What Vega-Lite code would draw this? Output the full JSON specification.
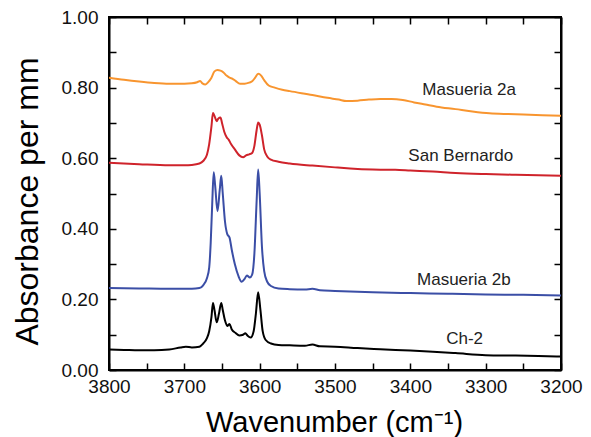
{
  "$schema": "https://vega.github.io/schema/vega-lite/v6.json",
  "width": 452,
  "height": 353,
  "autosize": "none",
  "padding": {"left": 109, "top": 17, "right": 30, "bottom": 67},
  "background": "white",
  "config": {
    "view": {"stroke": "black", "strokeWidth": 2},
    "axis": {"grid": false, "domainColor": "black", "domainWidth": 2, "tickColor": "black", "tickWidth": 1.5, "tickSize": -7, "labelFont": "Liberation Sans", "labelFontSize": 19, "labelColor": "#111", "titleColor": "black", "titleFontWeight": "normal"}
  },
  "datasets": {
    "spectra": [
      {"s":"Ch-2","x":3800,"y":0.058},{"s":"Ch-2","x":3780,"y":0.057},{"s":"Ch-2","x":3760,"y":0.056},{"s":"Ch-2","x":3740,"y":0.056},{"s":"Ch-2","x":3720,"y":0.058},{"s":"Ch-2","x":3705,"y":0.064},{"s":"Ch-2","x":3698,"y":0.066},{"s":"Ch-2","x":3690,"y":0.064},{"s":"Ch-2","x":3680,"y":0.066},{"s":"Ch-2","x":3675,"y":0.075},{"s":"Ch-2","x":3670,"y":0.09},{"s":"Ch-2","x":3667,"y":0.11},{"s":"Ch-2","x":3664,"y":0.15},{"s":"Ch-2","x":3662,"y":0.19},{"s":"Ch-2","x":3660,"y":0.17},{"s":"Ch-2","x":3657,"y":0.135},{"s":"Ch-2","x":3654,"y":0.16},{"s":"Ch-2","x":3651,"y":0.19},{"s":"Ch-2","x":3649,"y":0.17},{"s":"Ch-2","x":3646,"y":0.14},{"s":"Ch-2","x":3643,"y":0.125},{"s":"Ch-2","x":3640,"y":0.13},{"s":"Ch-2","x":3637,"y":0.115},{"s":"Ch-2","x":3632,"y":0.105},{"s":"Ch-2","x":3627,"y":0.098},{"s":"Ch-2","x":3622,"y":0.1},{"s":"Ch-2","x":3619,"y":0.104},{"s":"Ch-2","x":3616,"y":0.097},{"s":"Ch-2","x":3612,"y":0.092},{"s":"Ch-2","x":3608,"y":0.11},{"s":"Ch-2","x":3605,"y":0.16},{"s":"Ch-2","x":3602,"y":0.22},{"s":"Ch-2","x":3599,"y":0.17},{"s":"Ch-2","x":3596,"y":0.11},{"s":"Ch-2","x":3592,"y":0.085},{"s":"Ch-2","x":3585,"y":0.075},{"s":"Ch-2","x":3575,"y":0.071},{"s":"Ch-2","x":3560,"y":0.07},{"s":"Ch-2","x":3540,"y":0.069},{"s":"Ch-2","x":3530,"y":0.072},{"s":"Ch-2","x":3520,"y":0.067},{"s":"Ch-2","x":3500,"y":0.066},{"s":"Ch-2","x":3470,"y":0.062},{"s":"Ch-2","x":3440,"y":0.059},{"s":"Ch-2","x":3400,"y":0.055},{"s":"Ch-2","x":3370,"y":0.052},{"s":"Ch-2","x":3340,"y":0.048},{"s":"Ch-2","x":3300,"y":0.042},{"s":"Ch-2","x":3260,"y":0.041},{"s":"Ch-2","x":3230,"y":0.04},{"s":"Ch-2","x":3200,"y":0.038},

      {"s":"Masueria 2b","x":3800,"y":0.232},{"s":"Masueria 2b","x":3760,"y":0.231},{"s":"Masueria 2b","x":3720,"y":0.23},{"s":"Masueria 2b","x":3690,"y":0.23},{"s":"Masueria 2b","x":3680,"y":0.232},{"s":"Masueria 2b","x":3675,"y":0.24},{"s":"Masueria 2b","x":3670,"y":0.26},{"s":"Masueria 2b","x":3667,"y":0.29},{"s":"Masueria 2b","x":3665,"y":0.36},{"s":"Masueria 2b","x":3663,"y":0.47},{"s":"Masueria 2b","x":3661,"y":0.56},{"s":"Masueria 2b","x":3659,"y":0.52},{"s":"Masueria 2b","x":3656,"y":0.45},{"s":"Masueria 2b","x":3653,"y":0.51},{"s":"Masueria 2b","x":3651,"y":0.55},{"s":"Masueria 2b","x":3649,"y":0.5},{"s":"Masueria 2b","x":3646,"y":0.42},{"s":"Masueria 2b","x":3643,"y":0.385},{"s":"Masueria 2b","x":3640,"y":0.375},{"s":"Masueria 2b","x":3637,"y":0.34},{"s":"Masueria 2b","x":3633,"y":0.3},{"s":"Masueria 2b","x":3628,"y":0.265},{"s":"Masueria 2b","x":3624,"y":0.25},{"s":"Masueria 2b","x":3620,"y":0.258},{"s":"Masueria 2b","x":3617,"y":0.268},{"s":"Masueria 2b","x":3613,"y":0.262},{"s":"Masueria 2b","x":3610,"y":0.27},{"s":"Masueria 2b","x":3607,"y":0.33},{"s":"Masueria 2b","x":3604,"y":0.48},{"s":"Masueria 2b","x":3602,"y":0.568},{"s":"Masueria 2b","x":3600,"y":0.5},{"s":"Masueria 2b","x":3597,"y":0.35},{"s":"Masueria 2b","x":3594,"y":0.28},{"s":"Masueria 2b","x":3590,"y":0.25},{"s":"Masueria 2b","x":3585,"y":0.238},{"s":"Masueria 2b","x":3575,"y":0.231},{"s":"Masueria 2b","x":3560,"y":0.229},{"s":"Masueria 2b","x":3540,"y":0.228},{"s":"Masueria 2b","x":3530,"y":0.23},{"s":"Masueria 2b","x":3520,"y":0.226},{"s":"Masueria 2b","x":3500,"y":0.224},{"s":"Masueria 2b","x":3450,"y":0.22},{"s":"Masueria 2b","x":3400,"y":0.218},{"s":"Masueria 2b","x":3350,"y":0.216},{"s":"Masueria 2b","x":3300,"y":0.214},{"s":"Masueria 2b","x":3250,"y":0.213},{"s":"Masueria 2b","x":3200,"y":0.211},

      {"s":"San Bernardo","x":3800,"y":0.587},{"s":"San Bernardo","x":3760,"y":0.583},{"s":"San Bernardo","x":3720,"y":0.58},{"s":"San Bernardo","x":3700,"y":0.58},{"s":"San Bernardo","x":3690,"y":0.581},{"s":"San Bernardo","x":3680,"y":0.585},{"s":"San Bernardo","x":3675,"y":0.592},{"s":"San Bernardo","x":3670,"y":0.61},{"s":"San Bernardo","x":3667,"y":0.64},{"s":"San Bernardo","x":3664,"y":0.69},{"s":"San Bernardo","x":3662,"y":0.728},{"s":"San Bernardo","x":3660,"y":0.72},{"s":"San Bernardo","x":3657,"y":0.705},{"s":"San Bernardo","x":3655,"y":0.712},{"s":"San Bernardo","x":3652,"y":0.715},{"s":"San Bernardo","x":3650,"y":0.7},{"s":"San Bernardo","x":3647,"y":0.675},{"s":"San Bernardo","x":3644,"y":0.66},{"s":"San Bernardo","x":3641,"y":0.652},{"s":"San Bernardo","x":3638,"y":0.64},{"s":"San Bernardo","x":3633,"y":0.625},{"s":"San Bernardo","x":3627,"y":0.608},{"s":"San Bernardo","x":3622,"y":0.603},{"s":"San Bernardo","x":3618,"y":0.608},{"s":"San Bernardo","x":3614,"y":0.611},{"s":"San Bernardo","x":3610,"y":0.615},{"s":"San Bernardo","x":3607,"y":0.635},{"s":"San Bernardo","x":3604,"y":0.68},{"s":"San Bernardo","x":3602,"y":0.701},{"s":"San Bernardo","x":3600,"y":0.695},{"s":"San Bernardo","x":3597,"y":0.665},{"s":"San Bernardo","x":3594,"y":0.625},{"s":"San Bernardo","x":3590,"y":0.605},{"s":"San Bernardo","x":3585,"y":0.596},{"s":"San Bernardo","x":3575,"y":0.59},{"s":"San Bernardo","x":3560,"y":0.585},{"s":"San Bernardo","x":3530,"y":0.579},{"s":"San Bernardo","x":3500,"y":0.574},{"s":"San Bernardo","x":3480,"y":0.571},{"s":"San Bernardo","x":3450,"y":0.568},{"s":"San Bernardo","x":3420,"y":0.567},{"s":"San Bernardo","x":3400,"y":0.565},{"s":"San Bernardo","x":3370,"y":0.562},{"s":"San Bernardo","x":3340,"y":0.558},{"s":"San Bernardo","x":3300,"y":0.555},{"s":"San Bernardo","x":3260,"y":0.553},{"s":"San Bernardo","x":3200,"y":0.55},

      {"s":"Masueria 2a","x":3800,"y":0.828},{"s":"Masueria 2a","x":3780,"y":0.822},{"s":"Masueria 2a","x":3760,"y":0.817},{"s":"Masueria 2a","x":3740,"y":0.813},{"s":"Masueria 2a","x":3720,"y":0.811},{"s":"Masueria 2a","x":3700,"y":0.811},{"s":"Masueria 2a","x":3690,"y":0.812},{"s":"Masueria 2a","x":3683,"y":0.815},{"s":"Masueria 2a","x":3679,"y":0.819},{"s":"Masueria 2a","x":3676,"y":0.812},{"s":"Masueria 2a","x":3672,"y":0.809},{"s":"Masueria 2a","x":3668,"y":0.816},{"s":"Masueria 2a","x":3664,"y":0.828},{"s":"Masueria 2a","x":3660,"y":0.846},{"s":"Masueria 2a","x":3656,"y":0.85},{"s":"Masueria 2a","x":3652,"y":0.848},{"s":"Masueria 2a","x":3648,"y":0.843},{"s":"Masueria 2a","x":3644,"y":0.834},{"s":"Masueria 2a","x":3640,"y":0.828},{"s":"Masueria 2a","x":3636,"y":0.825},{"s":"Masueria 2a","x":3632,"y":0.819},{"s":"Masueria 2a","x":3626,"y":0.811},{"s":"Masueria 2a","x":3620,"y":0.811},{"s":"Masueria 2a","x":3614,"y":0.814},{"s":"Masueria 2a","x":3610,"y":0.818},{"s":"Masueria 2a","x":3606,"y":0.828},{"s":"Masueria 2a","x":3602,"y":0.839},{"s":"Masueria 2a","x":3598,"y":0.834},{"s":"Masueria 2a","x":3594,"y":0.821},{"s":"Masueria 2a","x":3588,"y":0.806},{"s":"Masueria 2a","x":3580,"y":0.8},{"s":"Masueria 2a","x":3570,"y":0.794},{"s":"Masueria 2a","x":3560,"y":0.79},{"s":"Masueria 2a","x":3530,"y":0.779},{"s":"Masueria 2a","x":3510,"y":0.771},{"s":"Masueria 2a","x":3495,"y":0.766},{"s":"Masueria 2a","x":3485,"y":0.762},{"s":"Masueria 2a","x":3470,"y":0.763},{"s":"Masueria 2a","x":3455,"y":0.766},{"s":"Masueria 2a","x":3440,"y":0.768},{"s":"Masueria 2a","x":3425,"y":0.768},{"s":"Masueria 2a","x":3410,"y":0.765},{"s":"Masueria 2a","x":3395,"y":0.758},{"s":"Masueria 2a","x":3380,"y":0.752},{"s":"Masueria 2a","x":3365,"y":0.746},{"s":"Masueria 2a","x":3340,"y":0.739},{"s":"Masueria 2a","x":3320,"y":0.733},{"s":"Masueria 2a","x":3295,"y":0.727},{"s":"Masueria 2a","x":3270,"y":0.725},{"s":"Masueria 2a","x":3250,"y":0.724},{"s":"Masueria 2a","x":3225,"y":0.722},{"s":"Masueria 2a","x":3200,"y":0.72}
    ],
    "labels": [
      {"name":"Masueria 2a","x":3322,"y":0.793},
      {"name":"San Bernardo","x":3333,"y":0.606},
      {"name":"Masueria 2b","x":3329,"y":0.255},
      {"name":"Ch-2","x":3328,"y":0.088}
    ]
  },
  "layer": [
    {
      "data": {"name": "spectra"},
      "mark": {"type": "line", "strokeWidth": 2, "clip": true, "interpolate": "monotone"},
      "encoding": {
        "x": {"field": "x", "type": "quantitative",
          "scale": {"domain": [3200, 3800], "reverse": true, "nice": false, "zero": false},
          "axis": {"orient": "bottom", "values": [3800,3750,3700,3650,3600,3550,3500,3450,3400,3350,3300,3250,3200],
            "labelExpr": "datum.value % 100 === 0 ? datum.label : ''", "format": "d", "labelPadding": 14, "labelFlush": false, "labelOverlap": false,
            "title": "Wavenumber (cm⁻¹)", "titleFont": "Liberation Sans", "titleFontSize": 29, "titleBaseline": "alphabetic", "titleY": 61, "titleX": 225}},
        "y": {"field": "y", "type": "quantitative",
          "scale": {"domain": [0, 1], "nice": false},
          "axis": {"orient": "left", "values": [0,0.1,0.2,0.3,0.4,0.5,0.6,0.7,0.8,0.9,1.0],
            "labelExpr": "round(datum.value*10) % 2 === 0 ? format(datum.value, '.2f') : ''", "labelPadding": 18, "labelFlush": false, "labelOverlap": false,
            "title": "Absorbance per mm", "titleFont": "Liberation Sans", "titleFontSize": 32, "titleAngle": -90, "titleBaseline": "alphabetic", "titleAlign": "center", "titleX": -72, "titleY": 184}},
        "color": {"field": "s", "type": "nominal", "legend": null,
          "scale": {"domain": ["Masueria 2a", "San Bernardo", "Masueria 2b", "Ch-2"], "range": ["#f8952f", "#cf232b", "#3b4ea6", "#000000"]}}
      }
    },
    {
      "data": {"name": "labels"},
      "mark": {"type": "text", "font": "Liberation Sans", "fontSize": 17, "color": "#222", "align": "center", "baseline": "middle"},
      "encoding": {
        "x": {"field": "x", "type": "quantitative",
          "scale": {"domain": [3200, 3800], "reverse": true, "nice": false, "zero": false},
          "axis": {"orient": "top", "values": [3800,3750,3700,3650,3600,3550,3500,3450,3400,3350,3300,3250,3200], "labels": false, "title": null}},
        "y": {"field": "y", "type": "quantitative",
          "scale": {"domain": [0, 1], "nice": false},
          "axis": {"orient": "right", "values": [0,0.1,0.2,0.3,0.4,0.5,0.6,0.7,0.8,0.9,1.0], "labels": false, "title": null}},
        "text": {"field": "name"}
      }
    }
  ],
  "resolve": {"scale": {"x": "independent", "y": "independent"}, "axis": {"x": "independent", "y": "independent"}}
}
